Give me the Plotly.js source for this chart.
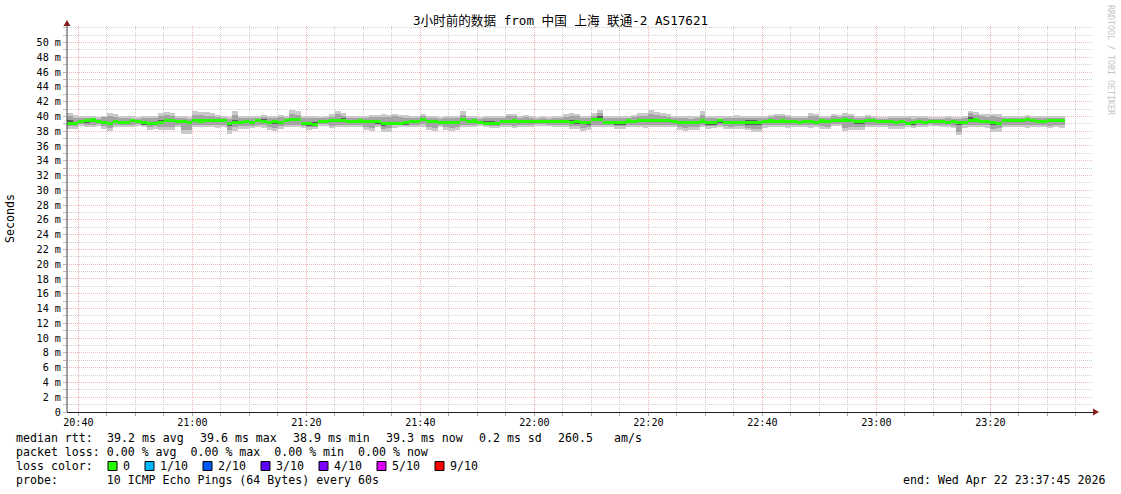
<!DOCTYPE html>
<html>
<head>
<meta charset="utf-8">
<script src="https://cdn.plot.ly/plotly-3.0.1.min.js"></script>
<style>html,body{margin:0;padding:0;background:#fff;}#chart{width:1121px;height:494px;}</style>
</head>
<body>
<div id="chart"></div>
<script>
// ---- data (ms), one value per 60 s step starting at 20:38 ----
const startTime = [2026, 4, 22, 20, 38];   // Y, M, D, h, m
const stepSeconds = 60;

const median = [
39.05,39.10,39.30,39.50,39.52,39.30,39.15,39.05,39.25,39.22,
39.20,39.45,39.25,39.12,39.05,39.08,39.20,39.42,39.40,39.30,
39.32,39.20,39.40,39.38,39.42,39.40,39.45,39.40,38.98,39.20,
39.22,39.25,39.20,39.42,39.32,39.20,39.25,39.18,39.40,39.55,
39.58,39.05,38.98,38.95,39.37,39.35,39.48,39.50,39.47,39.35,
39.33,39.38,39.35,39.30,39.25,38.98,39.00,39.10,39.05,39.12,
39.32,39.35,39.60,39.35,39.33,39.20,39.22,39.18,39.20,39.58,
39.35,39.38,39.15,39.05,39.08,39.02,39.28,39.35,39.38,39.30,
39.28,39.32,39.30,39.28,39.30,39.25,39.28,39.25,39.22,39.25,
39.18,39.15,39.58,39.60,39.15,39.18,39.15,39.18,39.38,39.35,
39.45,39.48,39.47,39.45,39.50,39.48,39.35,39.20,39.22,39.18,
39.20,39.38,39.20,39.18,39.40,39.20,39.22,39.18,39.20,39.15,
39.12,39.15,39.35,39.38,39.35,39.38,39.33,39.25,39.22,39.25,
39.25,39.22,39.38,39.35,39.48,39.50,39.52,39.50,39.35,39.33,
39.48,39.50,39.30,39.33,39.25,39.22,39.25,39.10,39.12,39.25,
39.22,39.28,39.30,39.25,39.22,39.25,39.18,39.22,39.50,39.52,
39.35,39.33,39.12,39.10,39.50,39.48,39.50,39.48,39.58,39.50,
39.35,39.33,39.48,39.50,39.45];

// outer smoke (lightest)
const smokeHi1 = [
40.40,40.15,40.00,40.10,40.05,39.95,40.10,40.40,40.30,40.10,
40.05,40.00,39.95,40.05,40.10,40.05,40.50,40.55,40.45,40.10,
40.05,39.95,40.70,40.65,40.55,40.50,40.20,40.10,39.95,40.70,
40.10,40.05,40.00,40.10,40.20,40.10,40.05,40.15,40.10,40.80,
40.75,40.10,40.00,40.05,39.95,40.00,40.30,40.78,40.50,40.10,
40.05,40.00,40.10,40.15,40.20,40.30,40.25,40.30,40.20,40.15,
40.10,40.05,40.35,40.10,40.05,39.95,40.10,40.00,40.05,40.78,
40.10,40.05,39.90,40.00,40.05,40.00,40.10,40.30,40.35,40.10,
40.15,40.05,39.95,40.00,39.95,40.00,40.05,40.30,40.40,40.35,
40.10,40.05,40.45,40.85,40.10,40.05,40.00,40.10,40.10,40.15,
40.50,40.45,40.80,40.60,40.40,40.35,40.10,40.10,40.05,40.00,
40.10,40.70,40.10,40.05,40.00,40.10,40.05,40.15,40.05,40.05,
40.10,40.00,40.10,40.15,40.30,40.35,40.25,40.10,40.05,40.10,
40.40,40.35,40.10,40.05,40.30,40.25,40.40,40.35,40.10,40.05,
40.20,40.10,39.90,39.95,40.10,40.05,40.10,40.10,40.05,40.10,
40.00,39.95,39.95,39.95,40.00,39.90,39.90,40.00,40.75,40.55,
40.30,40.30,40.35,40.30,40.10,40.10,40.10,40.05,40.15,40.10,
40.05,40.10,40.10,40.05,40.10];
const smokeLo1 = [
38.30,38.35,38.75,38.55,38.50,38.75,38.30,38.05,38.55,38.55,
38.50,38.60,38.70,38.60,38.10,38.30,38.10,38.15,38.20,38.50,
37.65,37.65,38.55,38.50,38.55,38.50,38.45,38.50,37.60,38.05,
38.35,38.30,38.40,38.50,38.45,38.10,38.05,38.30,38.55,38.50,
38.60,38.40,38.20,38.30,38.75,38.70,38.40,38.55,38.50,38.50,
38.55,38.60,38.10,38.05,38.50,37.85,37.90,38.45,38.50,38.55,
38.55,38.50,38.60,38.10,38.05,38.60,38.10,38.05,38.20,38.50,
38.55,38.50,38.75,38.50,38.45,38.40,38.55,38.50,38.40,38.55,
38.50,38.60,38.70,38.75,38.70,38.60,38.55,38.50,38.30,38.35,
38.05,38.20,38.55,38.60,38.50,38.55,38.30,38.35,38.50,38.55,
38.50,38.45,38.50,38.55,38.60,38.55,38.50,38.10,38.05,38.15,
38.10,38.50,38.35,38.40,38.55,38.30,38.25,38.30,38.35,38.10,
37.90,37.85,38.45,38.50,38.50,38.55,38.45,38.50,38.55,38.50,
38.45,38.50,38.30,38.25,38.75,38.70,38.05,38.10,38.10,38.15,
38.50,38.55,38.55,38.50,38.30,38.35,38.30,38.50,38.45,38.55,
38.50,38.75,38.70,38.55,38.50,38.45,37.45,38.45,38.50,38.55,
38.50,38.45,37.90,37.95,38.50,38.55,38.55,38.50,38.45,38.50,
38.50,38.55,38.40,38.50,38.45];

// middle smoke
const smokeHi2 = [
40.05,39.85,39.75,39.80,39.85,39.70,39.90,40.10,39.95,39.80,
39.75,39.70,39.70,39.80,39.85,39.80,40.10,40.20,40.05,39.85,
39.80,39.70,40.20,40.15,40.05,40.10,39.95,39.85,39.70,40.20,
39.85,39.80,39.75,39.80,39.90,39.85,39.80,39.90,39.75,40.30,
40.20,39.85,39.75,39.85,39.75,39.80,39.95,40.30,40.10,39.85,
39.80,39.85,39.80,39.90,39.95,39.95,39.90,40.00,39.90,39.85,
39.85,39.80,40.05,39.85,39.80,39.70,39.80,39.75,39.80,40.25,
39.85,39.80,39.65,39.75,39.80,39.75,39.85,40.00,40.05,39.85,
39.90,39.80,39.70,39.75,39.70,39.75,39.80,39.95,40.05,40.00,
39.80,39.75,40.10,40.40,39.80,39.75,39.75,39.85,39.85,39.90,
40.10,40.05,40.30,40.15,40.00,39.95,39.80,39.80,39.75,39.70,
39.80,40.20,39.80,39.75,39.70,39.80,39.75,39.85,39.75,39.80,
39.85,39.75,39.85,39.90,40.00,40.05,39.95,39.80,39.75,39.80,
40.05,40.00,39.85,39.80,40.00,39.95,40.05,40.00,39.80,39.75,
39.95,39.85,39.65,39.70,39.80,39.75,39.80,39.75,39.70,39.80,
39.75,39.70,39.70,39.70,39.75,39.65,39.65,39.75,40.40,40.20,
40.00,39.95,40.00,39.95,39.85,39.85,39.85,39.80,39.90,39.85,
39.80,39.85,39.85,39.80,39.85];
const smokeLo2 = [
38.65,38.70,38.95,38.85,38.80,38.95,38.65,38.45,38.85,38.85,
38.80,38.90,38.95,38.85,38.50,38.65,38.55,38.60,38.60,38.85,
38.10,38.20,38.85,38.80,38.85,38.80,38.80,38.85,38.20,38.50,
38.70,38.65,38.75,38.85,38.80,38.50,38.45,38.65,38.85,38.85,
38.90,38.70,38.55,38.60,38.95,38.95,38.75,38.85,38.85,38.80,
38.85,38.90,38.50,38.45,38.80,38.35,38.40,38.80,38.80,38.85,
38.85,38.80,38.95,38.50,38.45,38.90,38.50,38.45,38.55,38.85,
38.85,38.80,38.95,38.80,38.75,38.70,38.85,38.85,38.75,38.85,
38.80,38.90,38.95,38.95,38.90,38.85,38.85,38.80,38.65,38.70,
38.45,38.55,38.85,38.90,38.80,38.85,38.65,38.70,38.85,38.85,
38.85,38.80,38.85,38.85,38.90,38.85,38.80,38.50,38.45,38.55,
38.50,38.85,38.70,38.75,38.85,38.65,38.60,38.65,38.70,38.45,
38.30,38.25,38.80,38.85,38.85,38.85,38.80,38.85,38.85,38.80,
38.80,38.85,38.65,38.60,38.95,38.95,38.45,38.50,38.50,38.55,
38.85,38.85,38.85,38.80,38.65,38.70,38.65,38.80,38.75,38.85,
38.80,38.95,38.90,38.85,38.80,38.75,37.95,38.80,38.85,38.85,
38.80,38.80,38.35,38.40,38.85,38.85,38.85,38.80,38.80,38.85,
38.85,38.85,38.75,38.80,38.80];

// inner smoke (darkest)
const smokeHi3 = [
39.50,39.30,39.50,39.65,39.70,39.45,39.35,39.30,39.45,39.40,
39.35,39.60,39.40,39.30,39.25,39.30,39.45,39.65,39.60,39.45,
39.50,39.35,39.70,39.60,39.60,39.55,39.60,39.55,39.20,39.50,
39.40,39.40,39.35,39.60,39.70,39.40,39.45,39.35,39.55,39.80,
39.75,39.30,39.20,39.20,39.55,39.50,39.70,39.70,39.75,39.50,
39.50,39.70,39.50,39.45,39.55,39.25,39.25,39.30,39.25,39.30,
39.50,39.50,39.75,39.55,39.50,39.35,39.40,39.35,39.40,39.80,
39.55,39.55,39.35,39.40,39.35,39.30,39.45,39.55,39.60,39.50,
39.45,39.50,39.45,39.45,39.50,39.40,39.45,39.45,39.45,39.40,
39.40,39.35,39.75,40.10,39.35,39.35,39.35,39.40,39.55,39.55,
39.65,39.65,39.65,39.65,39.65,39.65,39.55,39.40,39.40,39.35,
39.40,39.60,39.35,39.35,39.55,39.40,39.40,39.35,39.40,39.45,
39.50,39.35,39.55,39.55,39.55,39.60,39.50,39.45,39.40,39.45,
39.45,39.40,39.55,39.55,39.65,39.70,39.70,39.70,39.50,39.50,
39.65,39.70,39.50,39.50,39.45,39.40,39.45,39.30,39.30,39.45,
39.40,39.45,39.45,39.40,39.40,39.40,39.35,39.40,39.90,39.80,
39.55,39.55,39.30,39.30,39.70,39.65,39.65,39.65,39.75,39.70,
39.55,39.50,39.65,39.65,39.65];
const smokeLo3 = [
38.85,38.90,39.05,39.15,39.20,39.10,38.95,38.85,39.05,39.05,
39.00,39.25,39.05,38.85,38.85,38.90,39.00,39.20,39.20,39.10,
39.10,39.00,39.20,39.15,39.20,39.20,39.25,39.20,38.75,38.95,
39.00,39.05,39.00,39.20,39.15,39.00,39.00,38.95,39.20,39.35,
39.35,38.80,38.75,38.70,39.15,39.15,39.25,39.25,39.25,39.15,
39.10,39.15,39.10,39.10,39.00,38.75,38.80,38.85,38.85,38.90,
39.10,39.15,39.35,39.15,39.10,39.00,39.00,38.95,39.00,39.35,
39.15,39.15,38.95,38.85,38.85,38.80,39.05,39.15,39.15,39.10,
39.05,39.10,39.10,39.05,39.10,39.05,39.05,39.05,39.00,39.00,
38.95,38.90,39.35,39.35,38.95,38.95,38.85,38.80,39.15,39.15,
39.25,39.25,39.25,39.25,39.30,39.25,39.10,38.95,38.95,38.95,
38.95,39.15,38.85,38.80,39.15,39.00,39.00,38.95,39.00,38.85,
38.85,38.90,39.15,39.15,39.15,39.15,39.10,39.05,39.00,39.05,
39.05,39.00,39.15,39.15,39.30,39.30,39.25,39.30,38.95,38.95,
39.25,39.30,39.10,39.10,39.05,39.00,39.05,38.85,38.90,39.05,
39.00,39.05,39.10,39.05,39.00,39.05,38.90,39.00,39.25,39.25,
39.10,39.10,38.85,38.85,39.25,39.25,39.25,39.25,39.35,39.25,
39.10,39.10,39.20,39.25,39.20];

// axis ticks
const yTickVals = [0,2,4,6,8,10,12,14,16,18,20,22,24,26,28,30,32,34,36,38,40,42,44,46,48,50];
const yTickText = yTickVals.map(v => v === 0 ? '0' : v + ' m');

// legend / text
const titleText = '3小时前的数据 from 中国 上海 联通-2 AS17621';
const rttLabel = 'median rtt:';
const rttStats = ['39.2 ms avg', '39.6 ms max', '38.9 ms min', '39.3 ms now', '0.2 ms sd', '260.5', 'am/s'];
const linePacket = 'packet loss: 0.00 % avg  0.00 % max  0.00 % min  0.00 % now';
const lossLabel = 'loss color:';
const lossNames = ['0', '1/10', '2/10', '3/10', '4/10', '5/10', '9/10'];
const lossColors = ['#26ff00', '#00b8ff', '#0059ff', '#5e00ff', '#7e00ff', '#dd00ff', '#ff0000'];
const lineProbe = 'probe:       10 ICMP Echo Pings (64 Bytes) every 60s';
const lineEnd = 'end: Wed Apr 22 23:37:45 2026';
const watermark = 'RRDTOOL / TOBI OETIKER';

// ---- build ----
function pad(n){return (n<10?'0':'')+n;}
function tstr(minOffset, secOffset){
  const d = new Date(Date.UTC(startTime[0], startTime[1]-1, startTime[2], startTime[3], startTime[4]) + (minOffset*60 + secOffset)*1000);
  return d.getUTCFullYear()+'-'+pad(d.getUTCMonth()+1)+'-'+pad(d.getUTCDate())+' '+pad(d.getUTCHours())+':'+pad(d.getUTCMinutes())+':'+pad(d.getUTCSeconds());
}
const times = median.map((_, i) => tstr(i*stepSeconds/60, stepSeconds/2));

const W = 1121, H = 494;
const L = 67, R = 1093, T = 26, B = 412;
const px = x => (x - L) / (R - L);
const py = y => (B - y) / (B - T);

function band(lo, hi, color){
  return {type:'bar', x: times, base: lo, y: hi.map((h,i)=>h-lo[i]), width: stepSeconds*1000,
    marker:{color: color, line:{width:0}}, hoverinfo:'skip', showlegend:false};
}
const medThick = 0.42;
const traces = [
  band(smokeLo1, smokeHi1, '#cacaca'),
  band(smokeLo2, smokeHi2, '#a4a4a4'),
  band(smokeLo3, smokeHi3, '#5c5c5c'),
  {type:'bar', x: times, base: median.map(v=>v-medThick/2), y: median.map(()=>medThick), width: stepSeconds*1000,
   marker:{color: lossColors[0], line:{width:0}}, hoverinfo:'skip', showlegend:false}
];

const mono = 'DejaVu Sans Mono, monospace';
const nb = s => s.replace(/ /g, '\u00a0');

const annotations = [];
function txt(text, x, y, size, opts){
  annotations.push(Object.assign({text: nb(text), x: px(x), y: py(y), xref:'paper', yref:'paper',
    showarrow:false, xanchor:'left', yanchor:'middle', borderpad:0, font:{family: mono, size: size, color:'#000'}}, opts||{}));
}
const LF = 11.6;
const DX = -1;
txt(rttLabel, 16+DX, 438, LF);
const rttX = [107, 200, 293, 386, 479, 558, 614];
rttStats.forEach((s, i) => txt(s, rttX[i]+DX, 438, LF));
txt(linePacket, 16+DX, 452, LF);
txt(lossLabel, 16+DX, 466, LF);
txt(lineProbe, 16+DX, 480, LF);
txt(lineEnd, 1106, 480, LF, {xanchor:'right'});
txt('Seconds', 10, 219, LF, {xanchor:'center', textangle:-90});
txt(watermark, 1111, 60, 8.3, {xanchor:'center', textangle:90, font:{family: mono, size: 8.3, color:'#c4c4c4'}});

const boxX = [108, 145, 203, 261, 319, 377, 435];
const shapes = [];
lossNames.forEach((n, i) => {
  shapes.push({type:'rect', xref:'paper', yref:'paper', x0: px(boxX[i]), x1: px(boxX[i]+9), y0: py(470.5), y1: py(461.5),
    fillcolor: lossColors[i], line:{color:'#000', width:1}});
  txt(n, boxX[i]+15+DX, 466, LF);
});
// axis arrows
shapes.push({type:'path', xref:'paper', yref:'paper',
  path: 'M '+px(63.5)+' '+py(26)+' L '+px(70.5)+' '+py(26)+' L '+px(67)+' '+py(20)+' Z', fillcolor:'#802020', line:{width:0}});
shapes.push({type:'line', xref:'paper', yref:'paper', x0: px(67), x1: px(67), y0: py(412), y1: py(26), line:{color:'#404040', width:1}});
shapes.push({type:'path', xref:'paper', yref:'paper',
  path: 'M '+px(1093)+' '+py(408.5)+' L '+px(1093)+' '+py(415.5)+' L '+px(1099)+' '+py(412)+' Z', fillcolor:'#802020', line:{width:0}});

const layout = {
  width: W, height: H, autosize:false,
  margin:{l: L, r: W-R, t: T, b: H-B, pad:0},
  paper_bgcolor:'#fff', plot_bgcolor:'#fff',
  barmode:'overlay', bargap:0, showlegend:false,
  title:{text: titleText, x:0.5, xref:'container', xanchor:'center', y: 1-21/H, yref:'container', yanchor:'middle',
         font:{family:'DejaVu Sans Mono, Noto Sans CJK SC', size:12.6, color:'#000'}},
  xaxis:{type:'date', range:[tstr(0,0), tstr(180,0)], tickmode:'linear', tick0: tstr(2,0), dtick: 20*60*1000,
    tickformat:'%H:%M', showgrid:true, gridcolor:'#f4b0b0', griddash:'1px,1px', gridwidth:1,
    minor:{tickmode:'linear', tick0: tstr(2,0), dtick: 5*60*1000, showgrid:true, gridcolor:'#cfcfcf', griddash:'1px,1px', ticks:'outside', ticklen:3, tickcolor:'#aaa'},
    ticks:'outside', ticklen:3, tickcolor:'#aaa', ticklabelstandoff:-2, showline:true, linecolor:'#202020', linewidth:1, zeroline:false,
    tickfont:{family: mono, size:10.15, color:'#000'}, fixedrange:true},
  yaxis:{range:[0, (B-T)/7.39], tickmode:'array', tickvals: yTickVals, ticktext: yTickText,
    showgrid:true, gridcolor:'#f4b8b8', griddash:'1px,1px', gridwidth:1,
    minor:{tickmode:'linear', tick0:0, dtick:1, showgrid:true, gridcolor:'#cfcfcf', griddash:'1px,1px', ticks:'outside', ticklen:3, tickcolor:'#bbb'},
    ticks:'outside', ticklen:3, tickcolor:'#bbb', showline:false, zeroline:false,
    tickfont:{family: mono, size:10.15, color:'#000'}, fixedrange:true},
  annotations: annotations, shapes: shapes
};
Plotly.newPlot('chart', traces, layout, {staticPlot:true, displayModeBar:false});
</script>
</body>
</html>
